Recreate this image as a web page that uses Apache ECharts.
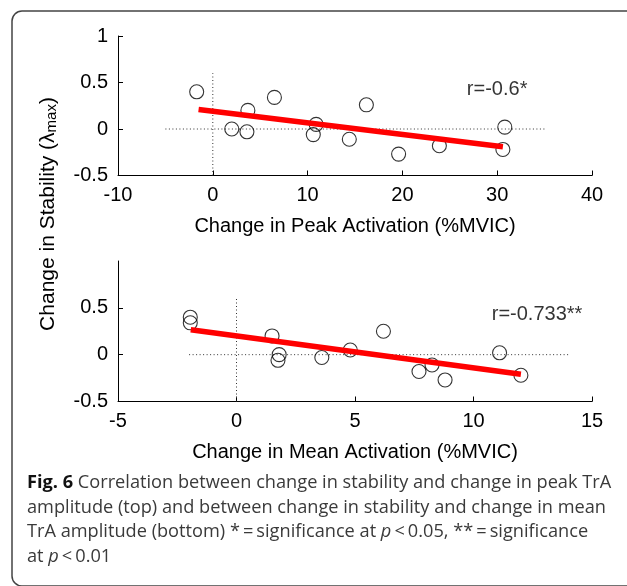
<!DOCTYPE html>
<html>
<head>
<meta charset="utf-8">
<script src="https://cdn.jsdelivr.net/npm/echarts@6/dist/echarts.min.js"></script>
<style>
html,body{margin:0;padding:0;background:#fff;}
#c{width:627px;height:586px;}
</style>
</head>
<body>
<div id="c"></div>
<script>
// ---- data ----
const peakX = [-1.7, 2.0, 3.7, 3.6, 6.5, 10.9, 10.6, 14.4, 16.2, 19.6, 23.9, 30.8, 30.6];
const peakY = [0.40, 0.00, 0.20, -0.03, 0.34, 0.05, -0.06, -0.11, 0.26, -0.27, -0.18, 0.02, -0.22];
const meanX = [-1.95, -1.95, 1.5, 1.8, 1.75, 3.6, 4.8, 6.2, 7.7, 8.25, 8.8, 11.1, 12.0];
const meanY = [0.40, 0.34, 0.20, 0.00, -0.06, -0.03, 0.05, 0.25, -0.18, -0.11, -0.27, 0.02, -0.22];
const fitPeakX = [-1.5, 30.6];
const fitPeakY = [0.21, -0.19];
const fitMeanX = [-1.93, 12.0];
const fitMeanY = [0.266, -0.21];
const refPeakH = [-5, 35];
const refMeanH = [-2, 14];
const refV = [-0.5, 0.6];
const peakTicks = [-10, 0, 10, 20, 30, 40];
const meanTicks = [-5, 0, 5, 10, 15];
const yTicksTop = [-0.5, 0, 0.5, 1];
const yTicksBottom = [-0.5, 0, 0.5];
const annPeak = {x: 26.8, y: 0.42, text: 'r=-0.6*'};
const annMean = {x: 10.77, y: 0.43, text: 'r=-0.733**'};
const xTitles = ['Change in Peak Activation (%MVIC)', 'Change in Mean Activation (%MVIC)'];
const captionLines = [
  '{b|Fig. 6} Correlation between change in stability and change in peak TrA',
  'amplitude (top) and between change in stability and change in mean',
  'TrA amplitude (bottom) *\u2009=\u2009significance at {i|p}\u2009<\u20090.05, **\u2009=\u2009significance',
  'at {i|p}\u2009<\u20090.01'
];

const zip = (a, b) => a.map((v, i) => [v, b[i]]);
const FONT = 'Liberation Sans';

function xAxis(idx, ticks, name) {
  return {
    type: 'value', gridIndex: idx,
    min: ticks[0], max: ticks[ticks.length - 1], interval: ticks[1] - ticks[0],
    name: name, nameLocation: 'middle', nameGap: 41,
    nameTextStyle: {fontFamily: FONT, fontSize: 20, color: '#000'},
    axisLine: {show: true, onZero: false, lineStyle: {color: '#000', width: 1}},
    axisTick: {show: true, inside: true, length: 5, lineStyle: {color: '#000'}},
    axisLabel: {fontFamily: FONT, fontSize: 20, color: '#000', margin: 10},
    splitLine: {show: false}
  };
}
function yAxis(idx, labelTicks) {
  return {
    type: 'value', gridIndex: idx, min: -0.5, max: 1, interval: 0.5,
    axisLine: {show: true, onZero: false, lineStyle: {color: '#000', width: 1}},
    axisTick: {show: true, inside: true, length: 5, lineStyle: {color: '#000'}, customValues: labelTicks},
    axisLabel: {fontFamily: FONT, fontSize: 20, color: '#000', margin: 10, customValues: labelTicks},
    splitLine: {show: false}
  };
}
function dotted(xi, data) {
  return {type: 'line', xAxisIndex: xi, yAxisIndex: xi, data: data, symbol: 'none', silent: true,
    lineStyle: {color: '#333', width: 1, type: [1, 2.5]}, z: 1};
}

const series = [];
[[0, peakX, peakY, fitPeakX, fitPeakY, refPeakH, annPeak], [1, meanX, meanY, fitMeanX, fitMeanY, refMeanH, annMean]]
.forEach(([i, xs, ys, fx, fy, rh, ann]) => {
  series.push(dotted(i, zip(rh, [0, 0])));
  series.push(dotted(i, zip([0, 0], refV)));
  series.push({type: 'scatter', xAxisIndex: i, yAxisIndex: i, data: zip(xs, ys), symbol: 'circle', symbolSize: 14,
    itemStyle: {color: 'rgba(0,0,0,0)', borderColor: '#000', borderWidth: 1.1}, z: 3});
  series.push({type: 'line', xAxisIndex: i, yAxisIndex: i, data: zip(fx, fy), symbol: 'none',
    lineStyle: {color: '#ff0000', width: 5.5}, z: 4});
  series.push({type: 'scatter', xAxisIndex: i, yAxisIndex: i, data: [[ann.x, ann.y]], symbolSize: 0,
    label: {show: true, position: 'right', distance: 0, formatter: ann.text, fontFamily: FONT, fontSize: 20, color: '#000'}, z: 5});
});

const chart = echarts.init(document.getElementById('c'), null, {renderer: 'canvas'});
chart.setOption({
  animation: false,
  backgroundColor: '#fff',
  grid: [
    {left: 118, top: 36, width: 474, height: 139.5},
    {left: 118, top: 261, width: 474, height: 140.5}
  ],
  xAxis: [xAxis(0, peakTicks, xTitles[0]), xAxis(1, meanTicks, xTitles[1])],
  yAxis: [yAxis(0, yTicksTop), yAxis(1, yTicksBottom)],
  series: series,
  graphic: [
    {type: 'rect', shape: {x: 12, y: 11, width: 700, height: 575, r: 10}, style: {fill: 'none', stroke: '#444', lineWidth: 1.5}, silent: true},
    {type: 'text', x: 48, y: 214, rotation: Math.PI / 2,
      style: {text: 'Change in Stability (λ{s|max})', fontFamily: FONT, fontSize: 21, fill: '#000', align: 'center', verticalAlign: 'middle',
        rich: {s: {fontFamily: FONT, fontSize: 15, fill: '#000', verticalAlign: 'bottom', padding: [8, 0, 0, 0]}}}}
  ].concat(captionLines.map((t, k) => ({
    type: 'text', x: 27, y: 483 + k * 24.5,
    style: {text: t, fontFamily: 'Open Sans', fontSize: 18.2, fill: '#3a3a3a', align: 'left', verticalAlign: 'middle',
      rich: {b: {fontFamily: 'Open Sans', fontSize: 18.2, fontWeight: 'bold', fill: '#111'},
             i: {fontFamily: 'Open Sans', fontSize: 18.2, fontStyle: 'italic', fill: '#3a3a3a'}}}
  })))
});
</script>
</body>
</html>
